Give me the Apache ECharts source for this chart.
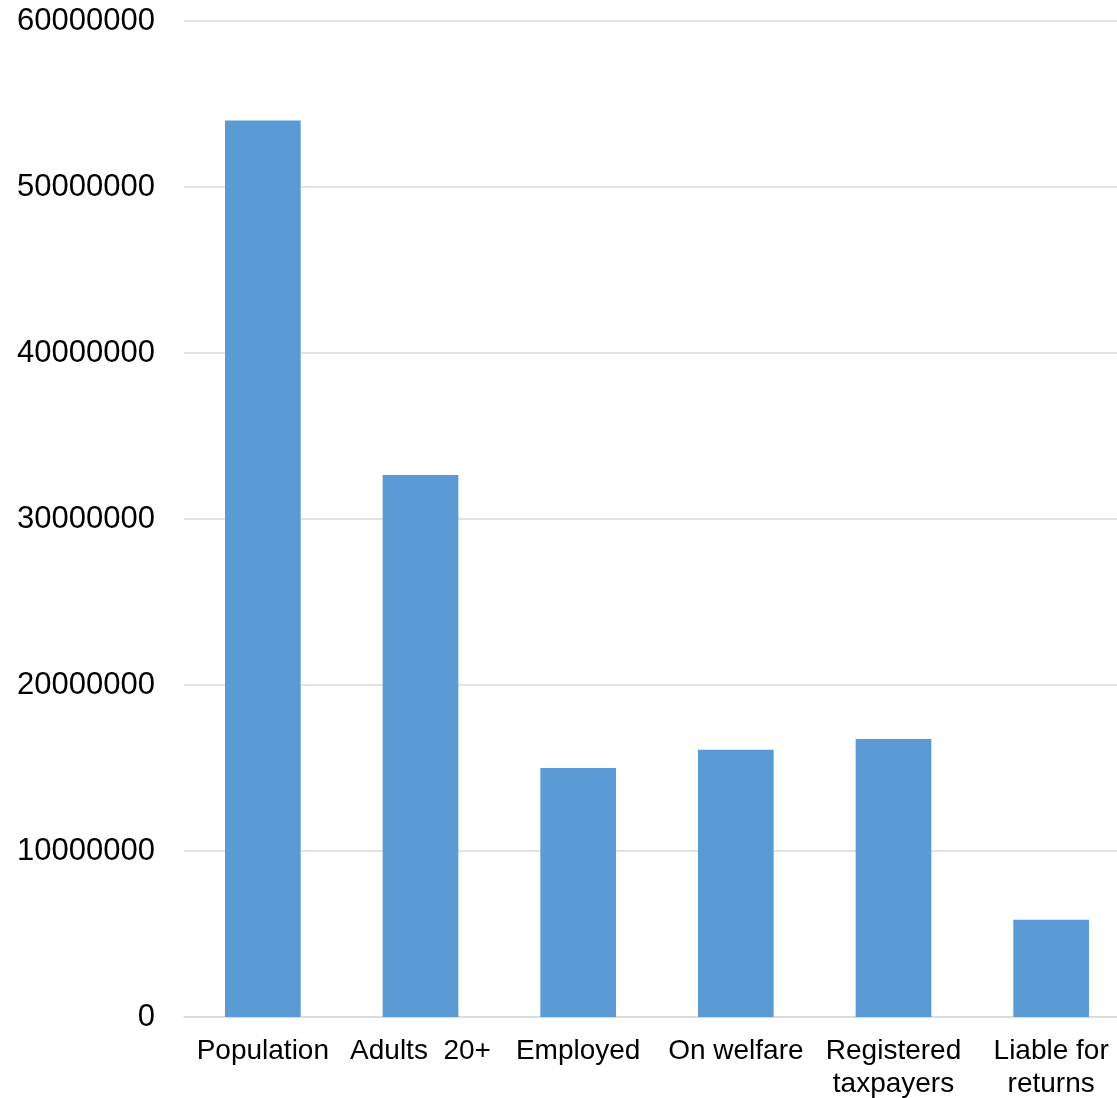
<!DOCTYPE html>
<html>
<head>
<meta charset="utf-8">
<script src="https://cdn.jsdelivr.net/npm/echarts@6/dist/echarts.min.js"></script>
<style>
  html, body { margin: 0; padding: 0; background: #fff; overflow: hidden; }
  #chart { width: 1117px; height: 1098px; }
</style>
</head>
<body>
<div id="chart"></div>
<script>
// Categories along the x axis
const categories = [
  'Population',
  'Adults  20+',
  'Employed',
  'On welfare',
  'Registered\ntaxpayers',
  'Liable for\nreturns'
];

// Head counts for each category
const counts = [54000000, 32650000, 15000000, 16100000, 16750000, 5860000];

// Value axis range
const yMin = 0;
const yMax = 60000000;
const yStep = 10000000;

const chart = echarts.init(document.getElementById('chart'), null, { renderer: 'canvas' });

chart.setOption({
  animation: false,
  backgroundColor: '#ffffff',
  grid: {
    left: 184, top: 21, width: 946, height: 996,
    containLabel: false,
    outerBoundsMode: 'none'
  },
  xAxis: {
    type: 'category',
    data: categories,
    axisLine: { show: true, lineStyle: { color: '#d9d9d9', width: 1.5 } },
    axisTick: { show: false },
    axisLabel: {
      interval: 0,
      margin: 18,
      color: '#000000',
      fontFamily: 'Liberation Sans, Arial, sans-serif',
      fontSize: 28,
      lineHeight: 33
    }
  },
  yAxis: {
    type: 'value',
    min: yMin,
    max: yMax,
    interval: yStep,
    axisLine: { show: false },
    axisTick: { show: false },
    splitLine: { lineStyle: { color: '#d9d9d9', width: 1.5 } },
    axisLabel: {
      margin: 29,
      color: '#000000',
      fontFamily: 'Liberation Sans, Arial, sans-serif',
      fontSize: 31,
      formatter: function (v) { return String(v); }
    }
  },
  series: [{
    type: 'bar',
    data: counts,
    barWidth: '48%',
    itemStyle: { color: '#5b9bd5' }
  }]
});
</script>
</body>
</html>
